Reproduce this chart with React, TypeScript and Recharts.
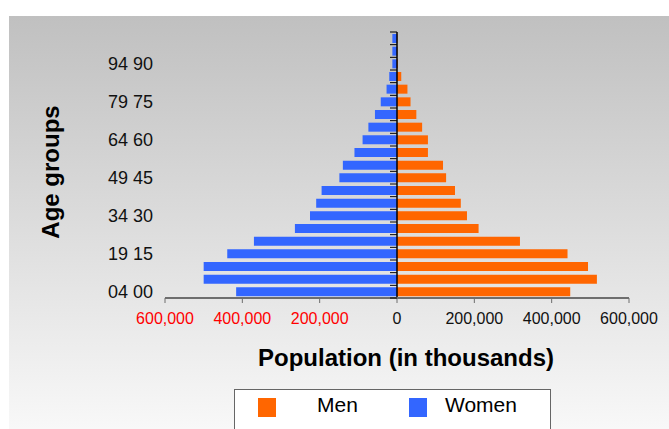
import React from "react";
import { Bar, BarChart, ReferenceLine, XAxis, YAxis } from "recharts";

// age groups from youngest (bottom) to oldest (top)
const ageGroups = [
  "04 00", "09 05", "14 10", "19 15", "24 20", "29 25", "34 30",
  "39 35", "44 40", "49 45", "54 50", "59 55", "64 60", "69 65",
  "74 70", "79 75", "84 80", "89 85", "94 90", "99 95", "100+",
];
const men = [
  448000, 517000, 494000, 441000, 318000, 211000, 181000,
  165000, 150000, 127000, 119000, 80000, 80000, 65000,
  50000, 35000, 27000, 11000, 2000, 1000, 1000,
];
const women = [
  416000, 500000, 500000, 439000, 370000, 264000, 225000,
  209000, 195000, 149000, 140000, 110000, 89000, 74000,
  57000, 42000, 27000, 20000, 12000, 12000, 12000,
];
const xTicks = [-600000, -400000, -200000, 0, 200000, 400000, 600000];

const W = 669;
const H = 429;
const PLOT_LEFT = 165;
const PLOT_RIGHT = 629;
const PLOT_TOP = 32;
const PLOT_BOTTOM = 298;
const ZERO_X = (PLOT_LEFT + PLOT_RIGHT) / 2;
const BAND = (PLOT_BOTTOM - PLOT_TOP) / ageGroups.length;
const FONT = '"Liberation Sans", Arial, Helvetica, sans-serif';
const ORANGE = "#FF6600";
const BLUE = "#3366FF";

const data = ageGroups.map((g, i) => ({ group: g, men: men[i], women: -women[i] }));

function AgeTick(props: any) {
  const { x, y, payload } = props;
  const i = ageGroups.indexOf(payload.value);
  return (
    <g>
      {i % 3 === 0 ? (
        <text x={x - 4} y={y} textAnchor="end" dominantBaseline="central" fontSize={18} fill="#111" fontFamily={FONT}>
          {payload.value}
        </text>
      ) : null}
      <line x1={ZERO_X - 7} x2={ZERO_X} y1={y + BAND / 2} y2={y + BAND / 2} stroke="#000" strokeWidth={1} />
      {i === ageGroups.length - 1 ? (
        <line x1={ZERO_X - 7} x2={ZERO_X} y1={y - BAND / 2} y2={y - BAND / 2} stroke="#000" strokeWidth={1} />
      ) : null}
    </g>
  );
}

function PopTick(props: any) {
  const { x, y, payload } = props;
  const v = payload.value as number;
  return (
    <text x={x} y={y + 13} textAnchor="middle" dominantBaseline="central" fontSize={16} fill={v < 0 ? "#FF0000" : "#111"} fontFamily={FONT}>
      {Math.abs(v).toLocaleString("en-US")}
    </text>
  );
}

export default function App() {
  return (
    <div style={{ position: "absolute", left: 0, top: 0, width: W, height: H, overflow: "hidden", fontFamily: FONT }}>
      <div
        style={{
          position: "absolute",
          left: 9,
          top: 16,
          width: W - 9,
          height: H - 16,
          background: "linear-gradient(to bottom, #c0c0c0, #f8f8f8)",
        }}
      />
      <div style={{ position: "absolute", left: 0, top: 0 }}>
        <BarChart
          width={W}
          height={H}
          data={data}
          layout="vertical"
          stackOffset="sign"
          barSize={9}
          margin={{ top: PLOT_TOP, right: W - PLOT_RIGHT, bottom: 0, left: 0 }}
        >
          <XAxis
            type="number"
            domain={[-600000, 600000]}
            ticks={xTicks}
            interval={0}
            height={H - PLOT_BOTTOM}
            tick={<PopTick />}
            tickSize={5}
            axisLine={{ stroke: "#6e6e6e", strokeWidth: 2 }}
            tickLine={{ stroke: "#6e6e6e", strokeWidth: 1 }}
            label={{
              content: () => (
                <text x={406} y={357} textAnchor="middle" dominantBaseline="central" fontSize={24} fontWeight={700} fill="#000" fontFamily={FONT}>
                  Population (in thousands)
                </text>
              ),
            }}
          />
          <YAxis
            type="category"
            dataKey="group"
            reversed
            interval={0}
            width={PLOT_LEFT}
            axisLine={false}
            tickLine={false}
            tick={<AgeTick />}
            label={{
              content: () => (
                <text
                  x={50}
                  y={172}
                  transform="rotate(-90 50 172)"
                  textAnchor="middle"
                  dominantBaseline="central"
                  fontSize={24}
                  fontWeight={700}
                  fill="#000"
                  fontFamily={FONT}
                >
                  Age groups
                </text>
              ),
            }}
          />
          <Bar dataKey="women" name="Women" stackId="pop" fill={BLUE} isAnimationActive={false} />
          <Bar dataKey="men" name="Men" stackId="pop" fill={ORANGE} isAnimationActive={false} />
          <ReferenceLine x={0} stroke="#000" strokeWidth={1.5} />
        </BarChart>
      </div>
      <div
        style={{
          position: "absolute",
          left: 234,
          top: 389,
          width: 317,
          height: 60,
          background: "#fff",
          border: "1.5px solid #666",
          boxSizing: "border-box",
        }}
      />
      <div style={{ position: "absolute", left: 258, top: 398, width: 18, height: 19, background: ORANGE }} />
      <span style={{ position: "absolute", left: 317, top: 394, fontSize: 21, lineHeight: "21px", color: "#000" }}>Men</span>
      <div style={{ position: "absolute", left: 409, top: 398, width: 18, height: 19, background: BLUE }} />
      <span style={{ position: "absolute", left: 445, top: 394, fontSize: 21, lineHeight: "21px", color: "#000" }}>Women</span>
    </div>
  );
}
